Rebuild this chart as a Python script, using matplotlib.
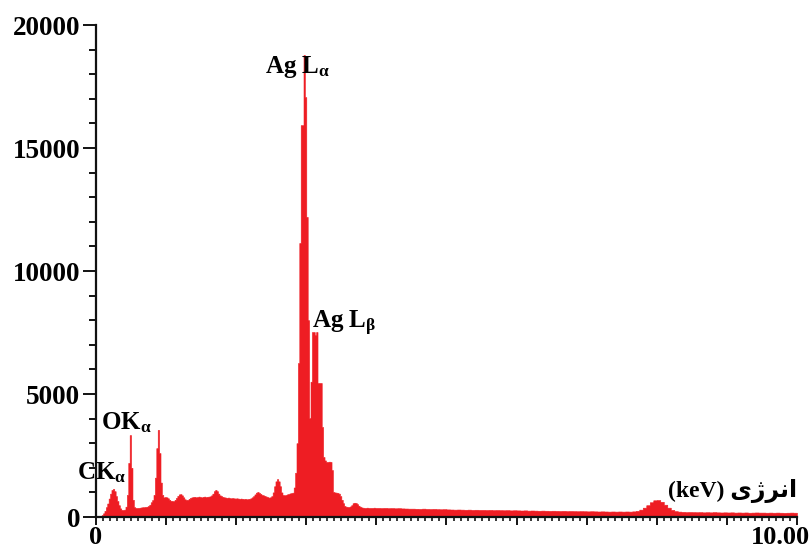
import numpy as np
import matplotlib
matplotlib.use("Agg")
import matplotlib.pyplot as plt
from matplotlib.ticker import MultipleLocator, FixedLocator, NullFormatter

# Espectro EDS: cuentas por canal
# 0 - 4 keV, canales de 0.02 keV
cuentas_bajas = [
    30, 40, 50, 50, 80, 150, 250, 400, 550, 750,
    950, 1100, 1140, 1050, 850, 650, 480, 350, 290, 280,
    300, 420, 900, 2200, 3330, 2000, 700, 400, 370, 360,
    370, 380, 390, 400, 400, 410, 420, 450, 500, 600,
    690, 900, 1600, 2800, 3540, 2600, 1400, 900, 800, 810,
    800, 760, 700, 660, 650, 650, 700, 780, 860, 920,
    930, 880, 800, 720, 690, 700, 740, 780, 800, 810,
    820, 800, 810, 830, 810, 800, 820, 830, 810, 820,
    830, 840, 880, 950, 1050, 1100, 1050, 950, 880, 850,
    820, 800, 790, 780, 790, 770, 760, 770, 760, 750,
    760, 750, 740, 750, 740, 730, 740, 720, 730, 740,
    760, 800, 850, 920, 990, 1020, 980, 940, 900, 880,
    860, 830, 810, 790, 800, 850, 1000, 1250, 1450, 1540,
    1450, 1250, 1000, 900, 880, 900, 920, 940, 960, 970,
    990, 1200, 1800, 3000, 6260, 11140, 15930, 15930, 18780, 17070,
    12200, 8000, 4020, 5500, 7520, 7520, 7400, 7520, 5450, 5450,
    5450, 3660, 2440, 2300, 2240, 2240, 2250, 2240, 1910, 1020,
    1000, 990, 980, 950, 850, 700, 560, 450, 420, 410,
    410, 430, 480, 560, 580, 570, 520, 460, 420, 390,
    380, 370, 370, 380, 370, 370, 360, 370, 380, 370,
]
# 4 - 10 keV, canales de 0.05 keV
cuentas_altas = [
    370, 365, 370, 360, 365, 355, 360, 350, 345, 340,
    340, 335, 330, 340, 330, 325, 330, 320, 315, 320,
    310, 305, 300, 305, 300, 295, 300, 290, 295, 290,
    290, 285, 290, 280, 285, 280, 275, 280, 270, 275,
    270, 265, 270, 260, 265, 260, 255, 260, 255, 250,
    255, 250, 245, 250, 240, 245, 240, 235, 240, 235,
    230, 235, 230, 225, 230, 225, 220, 225, 220, 225,
    220, 225, 220, 230, 250, 300, 380, 480, 600, 680,
    690, 620, 500, 380, 290, 240, 220, 210, 200, 205,
    200, 195, 200, 190, 195, 190, 200, 190, 185, 190,
    185, 190, 180, 185, 180, 185, 175, 180, 185, 180,
    180, 175, 180, 175, 180, 175, 170, 175, 180, 175,
]

# Etiquetas de los picos: (texto, energía keV, cuentas)
picos = [
    ("Ag L$_{α}$", 2.41, 18050),
    ("Ag L$_{β}$", 3.08, 7680),
    ("OK$_{α}$", 0.07, 3580),
    ("CK$_{α}$", -0.27, 1540),
]
eje_x = "(keV) " + "\uFBFC\uFB8A\uFEAE\uFEE7\uFE8D"  # انرژی en formas de presentación
etiquetas_x = [(0, "0"), (10, "10.00")]


def main():
    plt.rcParams['font.family'] = ['Liberation Serif', 'DejaVu Sans']
    plt.rcParams['font.weight'] = 'bold'
    plt.rcParams['mathtext.fontset'] = 'custom'
    plt.rcParams['mathtext.rm'] = 'Liberation Serif:bold'
    plt.rcParams['mathtext.it'] = 'Liberation Serif:bold'
    plt.rcParams['mathtext.bf'] = 'Liberation Serif:bold'

    bordes = np.concatenate((np.arange(0, 4.0001, 0.02), np.arange(4.05, 10.0001, 0.05)))
    cuentas = np.array(cuentas_bajas + cuentas_altas)

    fig = plt.figure(figsize=(8.11, 5.44), dpi=100)
    ax = fig.add_axes([0.1184, 0.0496, 0.8643, 0.9044])
    ax.fill_between(bordes, np.append(cuentas, cuentas[-1]), step='post',
                    facecolor='#ee1d23', edgecolor='#ee1d23', linewidth=0.4)

    ax.set_xlim(0, 10)
    ax.set_ylim(0, 20000)
    for lado in ['top', 'right']:
        ax.spines[lado].set_visible(False)
    for lado in ['left', 'bottom']:
        ax.spines[lado].set_linewidth(1.6)
        ax.spines[lado].set_color('#111111')
        ax.spines[lado].set_zorder(3)

    # Longitudes en puntos
    ax.yaxis.set_major_locator(MultipleLocator(5000))
    ax.yaxis.set_minor_locator(MultipleLocator(1000))
    ax.xaxis.set_major_locator(FixedLocator(np.arange(0, 11)))
    ax.xaxis.set_major_formatter(NullFormatter())
    ax.xaxis.set_minor_locator(MultipleLocator(0.1))
    ax.tick_params(axis='y', which='major', length=9.4, width=1.3, labelsize=19.5, pad=2)
    ax.tick_params(axis='y', which='minor', length=5, width=1.3)
    ax.tick_params(axis='x', which='major', length=6, width=1.3)
    ax.tick_params(axis='x', which='minor', length=3, width=1.1)

    # Etiquetas del eje x (solo extremos)
    for x, txt in etiquetas_x:
        ax.annotate(txt, (x, 0), xycoords=('data', 'axes fraction'),
                    xytext=(-12 if x == 10 else 0, -6.5), textcoords='offset points',
                    ha='center', va='top', fontsize=19, fontweight='bold')

    for texto, x, y in picos:
        ax.text(x, y, texto, fontsize=18, fontweight='bold', ha='left', va='baseline', clip_on=False)
    ax.text(10.0, 810, eje_x, fontsize=17, fontweight='bold', ha='right', va='baseline')

    fig.savefig('out.png', dpi=100)


if __name__ == "__main__":
    main()
